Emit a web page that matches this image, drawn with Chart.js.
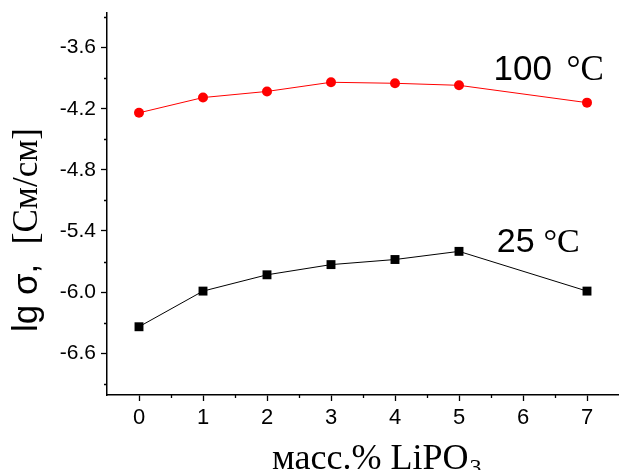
<!DOCTYPE html>
<html><head><meta charset="utf-8">
<script src="https://cdn.jsdelivr.net/npm/chart.js@4/dist/chart.umd.min.js"></script>
<style>html,body{margin:0;padding:0;background:#fff}#wrap{width:619px;height:470px;position:relative}</style>
</head><body><div id="wrap"><canvas id="c" width="619" height="470"></canvas></div>
<script>
// ---- data ----
const categories = [0, 1, 2, 3, 4, 5, 7];
const sigma100 = [-4.24, -4.09, -4.03, -3.94, -3.95, -3.97, -4.14];
const sigma25 = [-6.34, -5.99, -5.83, -5.73, -5.68, -5.60, -5.99];
const seriesNumbers = ['100', '25'];
const seriesUnit = '°C';
const xTickValues = [0, 1, 2, 3, 4, 5, 6, 7];
const xTickLabels = ['0', '1', '2', '3', '4', '5', '6', '7'];
const xMinorTicks = [0.5, 1.5, 2.5, 3.5, 4.5, 5.5, 6.5];
const yTickValues = [-6.6, -6.0, -5.4, -4.8, -4.2, -3.6];
const yTickLabels = ['-6.6', '-6.0', '-5.4', '-4.8', '-4.2', '-3.6'];
const yMinorTicks = [-6.9, -6.3, -5.7, -5.1, -4.5, -3.9, -3.3];
const xTitleMain = 'масс.% LiPO';
const xTitleSub = '3';
const yTitleSans = 'lg σ,';
const yTitleSerif = '[См/см]';

// label placement (data coordinates)
const seriesLabelPlacement = [
  {numX: 5.54, unitX: 6.68, y: -3.92, size: 35},
  {numX: 5.59, unitX: 6.32, y: -5.61, size: 34}
];

const toPoints = vals => categories.map((x, i) => ({x: x, y: vals[i]}));

const zeroPad = s => { s.paddingLeft = 0; s.paddingRight = 0; s.paddingTop = 0; s.paddingBottom = 0; };

const extras = {
  id: 'extras',
  afterDraw(chart) {
    const ctx = chart.ctx;
    const xs = chart.scales.x, ys = chart.scales.y;
    const area = chart.chartArea;
    ctx.save();
    // minor ticks
    ctx.strokeStyle = '#000';
    ctx.lineWidth = 1.3;
    ctx.beginPath();
    xMinorTicks.forEach(v => {
      const px = Math.round(xs.getPixelForValue(v)) + 0.5;
      ctx.moveTo(px, area.bottom); ctx.lineTo(px, area.bottom + 3);
    });
    yMinorTicks.forEach(v => {
      const py = Math.round(ys.getPixelForValue(v)) + 0.5;
      ctx.moveTo(area.left, py); ctx.lineTo(area.left - 3, py);
    });
    ctx.stroke();

    // series labels
    ctx.fillStyle = '#000';
    ctx.textBaseline = 'alphabetic';
    ctx.textAlign = 'left';
    seriesLabelPlacement.forEach((p, i) => {
      const py = ys.getPixelForValue(p.y);
      ctx.font = p.size + 'px "Liberation Sans"';
      ctx.fillText(seriesNumbers[i], xs.getPixelForValue(p.numX), py);
      ctx.font = p.size + 'px "Liberation Serif"';
      ctx.fillText(seriesUnit, xs.getPixelForValue(p.unitX), py);
    });

    // x title
    ctx.font = '36px "Liberation Serif"';
    const mainX = 272, base = 469;
    ctx.fillText(xTitleMain, mainX, base);
    const w = ctx.measureText(xTitleMain).width;
    ctx.font = '24px "Liberation Serif"';
    ctx.fillText(xTitleSub, mainX + w + 1, base + 6);

    // y title (rotated)
    ctx.translate(37, 332);
    ctx.rotate(-Math.PI / 2);
    ctx.font = '35px "Liberation Sans"';
    ctx.textAlign = 'left';
    ctx.fillText(yTitleSans, 0, 0);
    ctx.font = '35px "Liberation Serif"';
    ctx.textAlign = 'right';
    ctx.fillText(yTitleSerif, 204, 0);
    ctx.restore();
  }
};

new Chart(document.getElementById('c'), {
  type: 'scatter',
  data: {
    datasets: [
      {
        label: seriesNumbers[0] + ' ' + seriesUnit,
        data: toPoints(sigma100),
        showLine: true,
        borderColor: '#ff0000',
        backgroundColor: '#ff0000',
        borderWidth: 1,
        pointStyle: 'circle',
        pointRadius: 5,
        pointBorderWidth: 0
      },
      {
        label: seriesNumbers[1] + ' ' + seriesUnit,
        data: toPoints(sigma25),
        showLine: true,
        borderColor: '#000000',
        backgroundColor: '#000000',
        borderWidth: 1,
        pointStyle: 'rect',
        pointRadius: 6.3,
        pointBorderWidth: 0
      }
    ]
  },
  options: {
    responsive: false,
    animation: false,
    devicePixelRatio: 1,
    layout: {autoPadding: false, padding: {top: 13, left: 0, right: 0, bottom: 0}},
    plugins: {legend: {display: false}, tooltip: {enabled: false}},
    scales: {
      x: {
        type: 'linear',
        min: -0.5, max: 7.5,
        afterBuildTicks: s => { s.ticks = xTickValues.map(v => ({value: v})); },
        afterFit: s => { s.height = 75; zeroPad(s); },
        ticks: {
          callback: v => { const i = xTickValues.indexOf(v); return i >= 0 ? xTickLabels[i] : ''; },
          font: {family: 'Liberation Sans', size: 22},
          color: '#000', padding: 4, maxRotation: 0, autoSkip: false
        },
        grid: {drawOnChartArea: false, tickLength: 6, tickColor: '#000', tickWidth: 1.3},
        border: {display: true, color: '#000', width: 1.5}
      },
      y: {
        type: 'linear',
        min: -7.01, max: -3.26,
        afterBuildTicks: s => { s.ticks = yTickValues.map(v => ({value: v})); },
        afterFit: s => { s.width = 107; zeroPad(s); },
        ticks: {
          callback: v => { const i = yTickValues.findIndex(t => Math.abs(t - v) < 1e-6); return i >= 0 ? yTickLabels[i] : ''; },
          font: {family: 'Liberation Sans', size: 21},
          color: '#000', padding: 5, autoSkip: false
        },
        grid: {drawOnChartArea: false, tickLength: 6, tickColor: '#000', tickWidth: 1.3},
        border: {display: true, color: '#000', width: 1.5}
      }
    }
  },
  plugins: [extras]
});
</script>
</body></html>
